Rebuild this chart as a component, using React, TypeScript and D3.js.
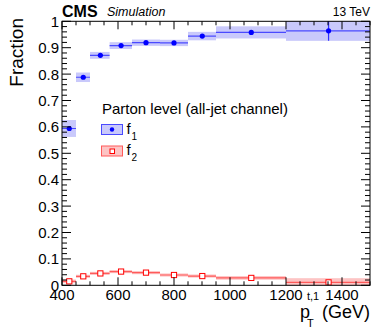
import * as d3 from 'd3';
import React, { useEffect, useRef } from 'react';

// bin edges in pT (GeV) and the marker positions inside each bin
const binEdges = [400, 450, 500, 570, 650, 750, 850, 950, 1200, 1500];
const binCenters = [426, 476, 537, 611, 700, 800, 901, 1076, 1352];

// f1 and f2 fractions with their band (syst) and stat errors
const f1Values = [0.594, 0.788, 0.871, 0.908, 0.919, 0.918, 0.944, 0.958, 0.964];
const f1Band = [0.032, 0.018, 0.013, 0.013, 0.012, 0.012, 0.016, 0.023, 0.038];
const f1Stat = [0.006, 0.004, 0.003, 0.003, 0.003, 0.003, 0.005, 0.006, 0.038];
const f2Values = [0.015, 0.034, 0.045, 0.052, 0.048, 0.039, 0.035, 0.028, 0.011];
const f2Band = [0.007, 0.006, 0.006, 0.006, 0.006, 0.006, 0.006, 0.007, 0.016];

const xTickLabels = [400, 600, 800, 1000, 1200, 1400];
const yTickLabels = ['0', '0.1', '0.2', '0.3', '0.4', '0.5', '0.6', '0.7', '0.8', '0.9', '1'];

const font = '"Liberation Sans", Arial, Helvetica, sans-serif';

function App() {
    const svgRef = useRef(null);

    useEffect(() => {
        const svg = d3.select(svgRef.current);
        svg.selectAll('*').remove();

        const left = 62, right = 370, top = 21.3, bottom = 285.3;
        const x = d3.scaleLinear().domain([400, 1500]).range([left, right]);
        const y = d3.scaleLinear().domain([0, 1]).range([bottom, top]);

        svg.append('defs').append('clipPath').attr('id', 'plotClip')
            .append('rect').attr('x', left).attr('y', top)
            .attr('width', right - left).attr('height', bottom - top);

        const plot = svg.append('g').attr('clip-path', 'url(#plotClip)');

        const bins = binCenters.map((c, i) => ({
            lo: binEdges[i], hi: binEdges[i + 1], c,
            f1: f1Values[i], b1: f1Band[i], s1: f1Stat[i],
            f2: f2Values[i], b2: f2Band[i],
        }));

        // bands
        plot.selectAll('.band1').data(bins).enter().append('rect')
            .attr('x', d => x(d.lo)).attr('width', d => x(d.hi) - x(d.lo))
            .attr('y', d => y(d.f1 + d.b1)).attr('height', d => y(d.f1 - d.b1) - y(d.f1 + d.b1))
            .attr('fill', '#c9c9fb');
        plot.selectAll('.band2').data(bins).enter().append('rect')
            .attr('x', d => x(d.lo)).attr('width', d => x(d.hi) - x(d.lo))
            .attr('y', d => y(d.f2 + d.b2)).attr('height', d => y(d.f2 - d.b2) - y(d.f2 + d.b2))
            .attr('fill', '#fdc4c4');

        // horizontal lines
        plot.selectAll('.h1').data(bins).enter().append('line')
            .attr('x1', d => x(d.lo)).attr('x2', d => x(d.hi))
            .attr('y1', d => y(d.f1)).attr('y2', d => y(d.f1))
            .attr('stroke', '#4a4aff').attr('stroke-width', 1.2);
        plot.selectAll('.h2').data(bins).enter().append('line')
            .attr('x1', d => x(d.lo)).attr('x2', d => x(d.hi))
            .attr('y1', d => y(d.f2)).attr('y2', d => y(d.f2))
            .attr('stroke', '#ff5a5a').attr('stroke-width', 1.2);

        // stat error bars f1
        plot.selectAll('.v1').data(bins).enter().append('line')
            .attr('x1', d => x(d.c)).attr('x2', d => x(d.c))
            .attr('y1', d => y(d.f1 - d.s1)).attr('y2', d => y(d.f1 + d.s1))
            .attr('stroke', '#3030ff').attr('stroke-width', 1.2);

        // markers
        plot.selectAll('.m1').data(bins).enter().append('circle')
            .attr('cx', d => x(d.c)).attr('cy', d => y(d.f1)).attr('r', 2.6)
            .attr('fill', '#0000ff');
        plot.selectAll('.m2').data(bins).enter().append('rect')
            .attr('x', d => x(d.c) - 2.6).attr('y', d => y(d.f2) - 2.6)
            .attr('width', 5.2).attr('height', 5.2)
            .attr('fill', 'white').attr('stroke', '#ff0000').attr('stroke-width', 1);

        // frame
        svg.append('rect').attr('x', left).attr('y', top)
            .attr('width', right - left).attr('height', bottom - top)
            .attr('fill', 'none').attr('stroke', 'black').attr('stroke-width', 1);

        // x ticks, bottom and top
        const xMinor = d3.range(400, 1501, 50);
        const ticks = svg.append('g').attr('stroke', 'black').attr('stroke-width', 1);
        xMinor.forEach(v => {
            const len = v % 200 === 0 ? 8 : 4;
            ticks.append('line').attr('x1', x(v)).attr('x2', x(v))
                .attr('y1', bottom).attr('y2', bottom - len);
            ticks.append('line').attr('x1', x(v)).attr('x2', x(v))
                .attr('y1', top).attr('y2', top + len);
        });
        // y ticks, left and right
        d3.range(0, 51).forEach(k => {
            const v = k * 0.02;
            const len = k % 5 === 0 ? 9 : 5;
            ticks.append('line').attr('x1', left).attr('x2', left + len)
                .attr('y1', y(v)).attr('y2', y(v));
            ticks.append('line').attr('x1', right).attr('x2', right - len)
                .attr('y1', y(v)).attr('y2', y(v));
        });

        // tick labels
        svg.selectAll('.xl').data(xTickLabels).enter().append('text')
            .attr('x', d => x(d)).attr('y', 300)
            .attr('text-anchor', 'middle').attr('font-family', font).attr('font-size', 15)
            .text(d => d);
        svg.selectAll('.yl').data(yTickLabels).enter().append('text')
            .attr('x', 59).attr('y', d => y(+d)).attr('dy', '0.36em')
            .attr('text-anchor', 'end').attr('font-family', font).attr('font-size', 15)
            .text(d => d);

        // axis titles
        svg.append('text').attr('transform', 'translate(23,18) rotate(-90)')
            .attr('text-anchor', 'end').attr('font-family', font).attr('font-size', 19)
            .text('Fraction');
        const xt = svg.append('g').attr('font-family', font);
        xt.append('text').attr('x', 300).attr('y', 318).attr('font-size', 18).text('p');
        xt.append('text').attr('x', 307).attr('y', 300).attr('font-size', 11).text('t,1');
        xt.append('text').attr('x', 307).attr('y', 327).attr('font-size', 11).text('T');
        xt.append('text').attr('x', 370).attr('y', 318).attr('font-size', 18)
            .attr('text-anchor', 'end').text('(GeV)');

        // header
        svg.append('text').attr('x', 62).attr('y', 16.5).attr('font-family', font)
            .attr('font-size', 16).attr('font-weight', 'bold').text('CMS');
        svg.append('text').attr('x', 107).attr('y', 15.5).attr('font-family', font)
            .attr('font-size', 12.5).attr('font-style', 'italic').text('Simulation');
        svg.append('text').attr('x', 370).attr('y', 16).attr('font-family', font)
            .attr('font-size', 12).attr('text-anchor', 'end').text('13 TeV');

        // legend
        const lg = svg.append('g').attr('font-family', font);
        lg.append('text').attr('x', 102).attr('y', 114).attr('font-size', 15)
            .text('Parton level (all-jet channel)');
        lg.append('rect').attr('x', 101.5).attr('y', 124.5).attr('width', 21).attr('height', 10)
            .attr('fill', '#c9c9fb').attr('stroke', '#4a4aff').attr('stroke-width', 1);
        lg.append('circle').attr('cx', 112).attr('cy', 129.5).attr('r', 2.2).attr('fill', '#0000ff');
        lg.append('rect').attr('x', 101.5).attr('y', 146).attr('width', 21).attr('height', 10)
            .attr('fill', '#fdc4c4').attr('stroke', '#ff5a5a').attr('stroke-width', 1);
        lg.append('rect').attr('x', 110).attr('y', 149).attr('width', 4.5).attr('height', 4.5)
            .attr('fill', 'white').attr('stroke', '#ff0000').attr('stroke-width', 1);
        lg.append('text').attr('x', 126.5).attr('y', 134).attr('font-size', 15).text('f');
        lg.append('text').attr('x', 131.5).attr('y', 140).attr('font-size', 10).text('1');
        lg.append('text').attr('x', 126.5).attr('y', 155).attr('font-size', 15).text('f');
        lg.append('text').attr('x', 131.5).attr('y', 161).attr('font-size', 10).text('2');
    }, []);

    return (
        <svg ref={svgRef} width={390} height={329}
            style={{ position: 'absolute', left: 0, top: 0, background: 'white' }} />
    );
}

export default App;
